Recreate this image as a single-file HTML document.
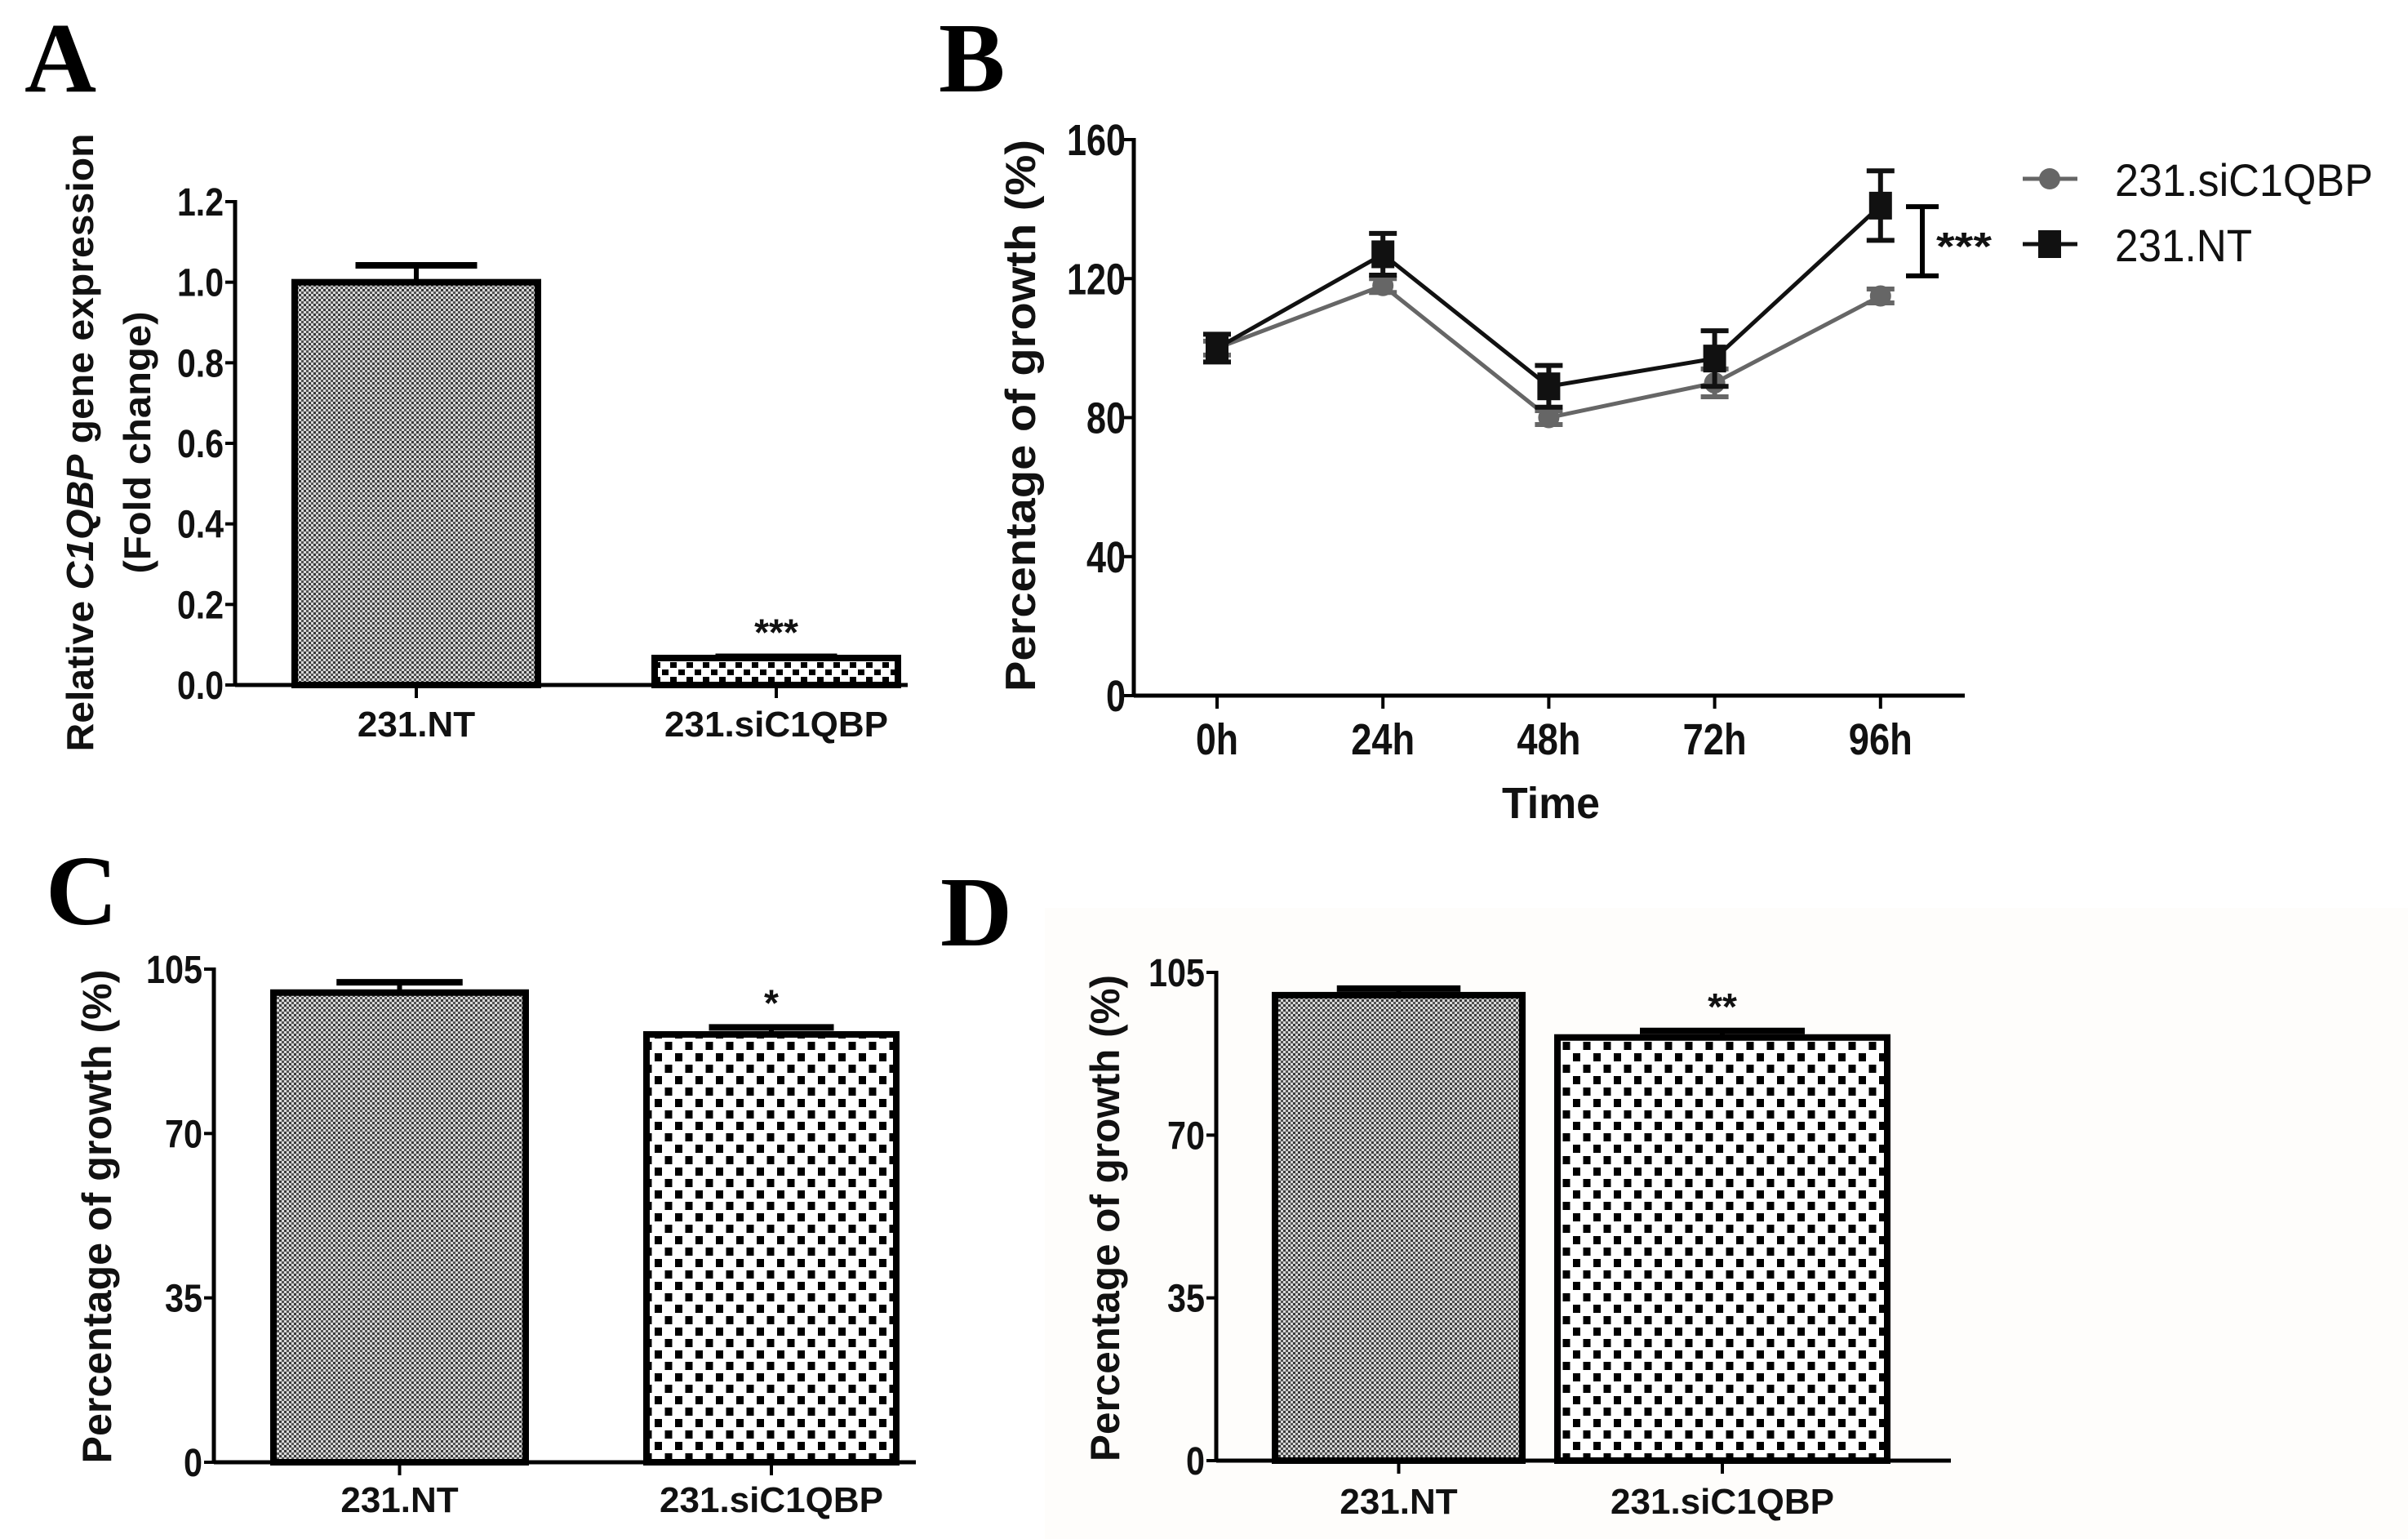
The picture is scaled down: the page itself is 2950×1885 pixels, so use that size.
<!DOCTYPE html>
<html><head><meta charset="utf-8"><style>
html,body{margin:0;padding:0;background:#fff;}
svg{display:block;}
</style></head><body>
<svg id="fig" width="2950" height="1885" viewBox="0 0 2950 1885" xmlns="http://www.w3.org/2000/svg">
<defs>
<pattern id="fine" width="6" height="6" patternUnits="userSpaceOnUse">
<rect width="6" height="6" fill="#d8d8d8"/><rect width="3" height="3" fill="#3a3a3a"/><rect x="3" y="3" width="3" height="3" fill="#555"/>
</pattern>
<pattern id="check" width="25" height="28" patternUnits="userSpaceOnUse">
<rect width="25" height="28" fill="#fff"/><rect x="2" y="2" width="9" height="10" fill="#000"/><rect x="14.5" y="16" width="9" height="10" fill="#000"/>
</pattern>
<pattern id="checkA" width="20" height="18" patternUnits="userSpaceOnUse">
<rect width="20" height="18" fill="#fff"/><rect x="1" y="1" width="8" height="7" fill="#000"/><rect x="11" y="10" width="8" height="7" fill="#000"/>
</pattern>
</defs>
<rect x="1280" y="1112" width="1670" height="773" fill="#fefdfb"/>
<g id="root"></g>
</svg>
<script>
// Panel A
const aCategories = ["231.NT", "231.siC1QBP"];
const aValues = [1.0, 0.067];
const aErrors = [0.042, 0.003];
const aTicks = [0.0, 0.2, 0.4, 0.6, 0.8, 1.0, 1.2];
const aStars = ["", "***"];
// Panel B
const bTimes = ["0h", "24h", "48h", "72h", "96h"];
const bSiValues = [100, 118, 80, 90, 115];
const bSiErrors = [2, 2, 2, 4, 2];
const bNtValues = [100, 127, 89, 97, 141];
const bNtErrors = [4, 6, 6, 8, 10];
const bTicks = [0, 40, 80, 120, 160];
const bSigRange = [120.8, 140.7];
// Panel C
const cCategories = ["231.NT", "231.siC1QBP"];
const cValues = [100.0, 91.1];
const cErrors = [2.2, 1.5];
const cTicks = [0, 35, 70, 105];
const cStars = ["", "*"];
// Panel D
const dCategories = ["231.NT", "231.siC1QBP"];
const dValues = [100.1, 91.0];
const dErrors = [1.4, 1.4];
const dTicks = [0, 35, 70, 105];
const dStars = ["", "**"];

const NS = "http://www.w3.org/2000/svg";
const root = document.getElementById("root");
const SANS = "font-family:'Liberation Sans',sans-serif";
function mk(tag, attrs, parent, txt) {
  const e = document.createElementNS(NS, tag);
  for (const k in attrs) e.setAttribute(k, attrs[k]);
  if (txt !== undefined) e.textContent = txt;
  (parent || root).appendChild(e);
  return e;
}
function label(x, y, txt, size, anchor, weight, name, extra) {
  const t = mk("text", Object.assign({x: x, y: y, "font-size": size, "text-anchor": anchor, "font-weight": weight, fill: "#111", style: SANS}, extra || {}), root, txt);
  
  
  return t;
}
function panelLetter(x, y, ch) {
  const t = mk("text", {x: x, y: y, "font-size": 122, "font-weight": "bold", style: "font-family:'Liberation Serif',serif", fill: "#000"}, root, ch);
  
  
}
function yTitle(cx, cy, txt, size, len, name) {
  const t = mk("text", {x: 0, y: 0, "font-size": size, "text-anchor": "middle", "font-weight": "bold", fill: "#111", style: SANS,
    transform: "translate(" + cx + "," + cy + ") rotate(-90)", textLength: len, lengthAdjust: "spacingAndGlyphs"}, root, txt);
  
  
  return t;
}

function barPanel(cfg) {
  const {axX, y0, yTop, vmax, xEnd, bars, cats, vals, errs, ticks, stars, fills, id, tickFmt, labY} = cfg;
  const ys = v => y0 - (v / vmax) * (y0 - yTop);
  const ax = mk("line", {x1: axX, y1: yTop - 2, x2: axX, y2: y0, stroke: "#000", "stroke-width": 5});
  
  
  const xa = mk("line", {x1: axX, y1: y0, x2: xEnd, y2: y0, stroke: "#000", "stroke-width": 5});
  
  
  ticks.forEach(t => {
    const tl = mk("line", {x1: axX - 12, y1: ys(t), x2: axX, y2: ys(t), stroke: "#000", "stroke-width": 4});
    
    
    const s = tickFmt(t);
    label(axX - 14, ys(t) + 17, s, 48, "end", "bold", id + '-y-tick-label', {textLength: s.replace('.', '').length * 23 + (s.includes('.') ? 11 : 0), lengthAdjust: "spacingAndGlyphs"});
  });
  vals.forEach((v, i) => {
    const [bx0, bx1] = bars[i];
    const cx = (bx0 + bx1) / 2;
    const hw = (bx1 - bx0) * 0.25;
    const e = mk("line", {x1: cx, y1: ys(v), x2: cx, y2: ys(v + errs[i]), stroke: "#000", "stroke-width": 6});
    
    
    const c = mk("line", {x1: cx - hw, y1: ys(v + errs[i]), x2: cx + hw, y2: ys(v + errs[i]), stroke: "#000", "stroke-width": 8});
    
    
    const r = mk("rect", {x: bx0, y: ys(v), width: bx1 - bx0, height: y0 - ys(v), fill: fills[i], stroke: "#000", "stroke-width": 8});
    
    
    const tk = mk("line", {x1: cx, y1: y0, x2: cx, y2: y0 + 16, stroke: "#000", "stroke-width": 4});
    
    
    label(cx, labY, cats[i], 44, "middle", "bold", id + '-x-tick-label');
    if (stars[i]) label(cx, ys(v + errs[i]) - 14, stars[i], 46, "middle", "bold", id + '-significance');
  });
}

// Panel A
panelLetter(30, 112, "A");
barPanel({axX: 288, y0: 839, yTop: 247, vmax: 1.2, xEnd: 1112, bars: [[361, 659], [802, 1100]],
  cats: aCategories, vals: aValues, errs: aErrors, ticks: aTicks, stars: aStars, fills: ["url(#fine)", "url(#checkA)"],
  id: "panel-a", tickFmt: t => t.toFixed(1), labY: 902});
(function(){
  const t = mk("text", {x: 0, y: 0, "font-size": 46, "text-anchor": "middle", "font-weight": "bold", fill: "#111", style: SANS,
    transform: "translate(114,542) rotate(-90)", textLength: 757, lengthAdjust: "spacingAndGlyphs"});
  
  
  t.innerHTML = 'Relative <tspan font-style="italic">C1QBP</tspan> gene expression';
})();
yTitle(184, 542, "(Fold change)", 46, 321, "panel-a-y-title-line2");

// Panel B
panelLetter(1150, 112, "B");
(function(){
  const axX = 1389, y0 = 852, yTop = 171, vmax = 160;
  const xs0 = 1491, dx = 203.2;
  const ys = v => y0 - v / vmax * (y0 - yTop);
  const xs = i => xs0 + i * dx;
  let e = mk("line", {x1: axX, y1: yTop - 2, x2: axX, y2: y0, stroke: "#000", "stroke-width": 5});
   
  e = mk("line", {x1: axX, y1: y0, x2: 2407, y2: y0, stroke: "#000", "stroke-width": 5});
   
  bTicks.forEach(t => {
    const tl = mk("line", {x1: axX - 12, y1: ys(t), x2: axX, y2: ys(t), stroke: "#000", "stroke-width": 4});
     
    label(axX - 10, ys(t) + 19, String(t), 54, "end", "bold", 'panel-b-y-tick-label', {textLength: String(t).length * 24, lengthAdjust: "spacingAndGlyphs"});
  });
  bTimes.forEach((t, i) => {
    const tl = mk("line", {x1: xs(i), y1: y0, x2: xs(i), y2: y0 + 16, stroke: "#000", "stroke-width": 4});
     
    label(xs(i), 924, t, 54, "middle", "bold", 'panel-b-x-tick-label', {textLength: t.length * 26, lengthAdjust: "spacingAndGlyphs"});
  });
  label(1900, 1002, "Time", 54, "middle", "bold", 'panel-b-x-title', {textLength: 120, lengthAdjust: "spacingAndGlyphs"});
  yTitle(1268, 509, "Percentage of growth (%)", 52, 676, "panel-b-y-title");
  function series(vals, errs, color, shape, name) {
    const pts = vals.map((v, i) => xs(i) + "," + ys(v)).join(" ");
    const pl = mk("polyline", {points: pts, fill: "none", stroke: color, "stroke-width": 5});
     
    vals.forEach((v, i) => {
      const x = xs(i);
      const eb = mk("path", {d: "M" + x + "," + ys(v - errs[i]) + "V" + ys(v + errs[i]) + "M" + (x - 17) + "," + ys(v - errs[i]) + "H" + (x + 17) + "M" + (x - 17) + "," + ys(v + errs[i]) + "H" + (x + 17), stroke: color, "stroke-width": 6, fill: "none"});
       
      let m;
      if (shape === "sq") m = mk("rect", {x: x - 14, y: ys(v) - 17, width: 28, height: 34, fill: color});
      else m = mk("circle", {cx: x, cy: ys(v), r: 13, fill: color});
       
    });
  }
  series(bSiValues, bSiErrors, "#666", "ci", "sic1qbp");
  series(bNtValues, bNtErrors, "#111", "sq", "nt");
  const sx = 2355;
  const br = mk("path", {d: "M" + sx + "," + ys(bSigRange[0]) + "V" + ys(bSigRange[1]) + "M" + (sx - 20) + "," + ys(bSigRange[0]) + "H" + (sx + 20) + "M" + (sx - 20) + "," + ys(bSigRange[1]) + "H" + (sx + 20), stroke: "#000", "stroke-width": 6, fill: "none"});
   
  label(2372, 318, "***", 48, "start", "bold", 'panel-b-significance', {textLength: 68, lengthAdjust: "spacingAndGlyphs"});
  let l = mk("line", {x1: 2478, y1: 219, x2: 2545, y2: 219, stroke: "#666", "stroke-width": 5});
   
  l = mk("circle", {cx: 2511, cy: 219, r: 13, fill: "#666"});
   
  label(2591, 240, "231.siC1QBP", 56, "start", "normal", 'legend-sic1qbp-label', {textLength: 316, lengthAdjust: "spacingAndGlyphs"});
  l = mk("line", {x1: 2478, y1: 299, x2: 2545, y2: 299, stroke: "#111", "stroke-width": 5});
   
  l = mk("rect", {x: 2497, y: 282, width: 28, height: 34, fill: "#111"});
   
  label(2591, 320, "231.NT", 56, "start", "normal", 'legend-nt-label', {textLength: 168, lengthAdjust: "spacingAndGlyphs"});
})();

// Panel C
panelLetter(56, 1132, "C");
barPanel({axX: 262, y0: 1791, yTop: 1187, vmax: 105, xEnd: 1122, bars: [[335, 644], [792, 1098]],
  cats: cCategories, vals: cValues, errs: cErrors, ticks: cTicks, stars: cStars, fills: ["url(#fine)", "url(#check)"],
  id: "panel-c", tickFmt: t => String(t), labY: 1852});
yTitle(136, 1490, "Percentage of growth (%)", 50, 605, "panel-c-y-title");

// Panel D
panelLetter(1152, 1158, "D");
barPanel({axX: 1490, y0: 1789, yTop: 1191, vmax: 105, xEnd: 2390, bars: [[1562, 1865], [1908, 2312]],
  cats: dCategories, vals: dValues, errs: dErrors, ticks: dTicks, stars: dStars, fills: ["url(#fine)", "url(#check)"],
  id: "panel-d", tickFmt: t => String(t), labY: 1854});
yTitle(1371, 1492, "Percentage of growth (%)", 50, 596, "panel-d-y-title");
</script>
</body></html>
